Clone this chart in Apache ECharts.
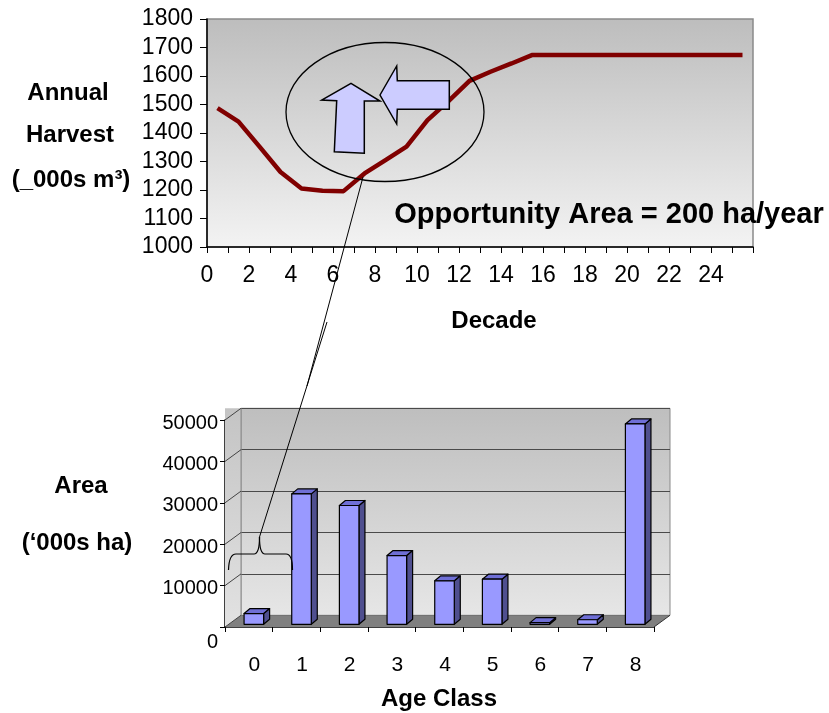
<!DOCTYPE html>
<html><head><meta charset="utf-8">
<script src="https://cdn.jsdelivr.net/npm/echarts@6/dist/echarts.min.js"></script>
<style>html,body{margin:0;padding:0;background:#fff}#c{width:829px;height:713px}</style>
</head><body><div id="c"></div>
<script>
// ---- data ----
const decades = [0.5,1.5,2.5,3.5,4.5,5.5,6.5,7.5,8.5,9.5,10.5,11.5,12.5,13.5,14.5,15.5,16.5,17.5,18.5,19.5,20.5,21.5,22.5,23.5,24.5,25.5];
const harvest = [1487,1440,1352,1263,1205,1197,1196,1258,1305,1352,1445,1512,1583,1615,1644,1674,1674,1674,1674,1674,1674,1674,1674,1674,1674,1674];
const harvestTicks = [1000,1100,1200,1300,1400,1500,1600,1700,1800];
const decadeLabels = [0,2,4,6,8,10,12,14,16,18,20,22,24];
const ageClasses = ['0','1','2','3','4','5','6','7','8'];
const areaValues = [2600,31500,28700,16600,10500,10900,400,1100,48400];
const areaTicks = [0,10000,20000,30000,40000,50000];

const FONT = '"Liberation Sans", Arial, Helvetica, sans-serif';
const chart = echarts.init(document.getElementById('c'), null, {renderer:'canvas'});

const grad = (a,b) => new echarts.graphic.LinearGradient(0,0,0,1,[{offset:0,color:a},{offset:1,color:b}]);

function txt(text, x, y, size, bold) {
  return {type:'text', x:x, y:y, z:100, style:{text:text, fill:'#000',
    font:(bold?'bold ':'') + size + 'px ' + FONT,
    align:'center', verticalAlign:'middle', textAlign:'center', textVerticalAlign:'middle'}};
}
function poly(points) {
  return {type:'polygon', z:100, shape:{points:points}, style:{fill:'#ccccff', stroke:'#000', lineWidth:1.5}};
}
function seg(x1,y1,x2,y2) {
  return {type:'line', z:100, shape:{x1:x1,y1:y1,x2:x2,y2:y2}, style:{stroke:'#000', lineWidth:1}};
}
function curve(x1,y1,cx,cy,x2,y2) {
  return {type:'bezierCurve', z:100, shape:{x1:x1,y1:y1,cpx1:cx,cpy1:cy,x2:x2,y2:y2}, style:{stroke:'#000', lineWidth:1.2, fill:null}};
}

const DX = 16, DY = -11.7; // depth offset of the 3D floor

const option = {
  animation:false,
  textStyle:{fontFamily:FONT},
  grid:[
    {left:207, top:19, width:546, height:228, show:true, outerBoundsMode:'none',
     backgroundColor:grad('#bdbdbd','#f3f3f3'), borderColor:'#8a8a8a', borderWidth:1.5},
    {left:225+DX, top:420+DY, width:429, height:207, show:true, outerBoundsMode:'none',
     backgroundColor:grad('#bebebe','#e6e6e6'), borderColor:'#8a8a8a', borderWidth:1},
    {left:225, top:420, width:429, height:207, outerBoundsMode:'none'}
  ],
  xAxis:[
    {gridIndex:0, type:'value', min:0, max:26, interval:1,
     axisLine:{show:true, lineStyle:{color:'#000', width:1.5}},
     axisTick:{show:true, length:6, lineStyle:{color:'#000', width:1}},
     axisLabel:{show:true, margin:17, fontSize:23, color:'#000', fontFamily:FONT,
       formatter:v => decadeLabels.indexOf(v) >= 0 ? String(v) : ''},
     splitLine:{show:false}},
    {gridIndex:1, type:'category', data:ageClasses, show:false},
    {gridIndex:2, type:'category', data:ageClasses,
     axisLine:{show:true, lineStyle:{color:'#000', width:1.5}},
     axisTick:{show:true, length:5, interval:0, lineStyle:{color:'#000', width:1}},
     axisLabel:{show:true, interval:0, margin:28, color:'#000', fontSize:21, fontFamily:FONT,
       formatter:v => '{a|' + v + '}',
       rich:{a:{fontSize:21, color:'#000', fontFamily:FONT, padding:[0,0,0,11]}}},
     splitLine:{show:false}}
  ],
  yAxis:[
    {gridIndex:0, type:'value', min:harvestTicks[0], max:harvestTicks[harvestTicks.length-1], interval:100,
     axisLine:{show:true, lineStyle:{color:'#000', width:1.5}},
     axisTick:{show:true, length:7, lineStyle:{color:'#000', width:1}},
     axisLabel:{show:true, margin:14, fontSize:23, color:'#000', fontFamily:FONT,
       formatter:v => String(v)},
     splitLine:{show:false}},
    {gridIndex:1, type:'value', min:0, max:50000, interval:10000,
     axisLine:{show:false}, axisTick:{show:false}, axisLabel:{show:false},
     splitLine:{show:true, lineStyle:{color:'#4a4a4a', width:1}}},
    {gridIndex:2, type:'value', min:0, max:50000, interval:10000,
     axisLine:{show:true, lineStyle:{color:'#000', width:1.5}},
     axisTick:{show:true, length:5, lineStyle:{color:'#000', width:1}},
     axisLabel:{show:true, margin:7, color:'#000', fontSize:20, fontFamily:FONT,
       formatter:v => v === 0 ? '{z|0}' : '{n|' + v + '}',
       rich:{n:{fontSize:20, color:'#000', fontFamily:FONT, padding:[6,0,0,0]},
             z:{fontSize:20, color:'#000', fontFamily:FONT, padding:[31,0,0,0]}}},
     splitLine:{show:false}}
  ],
  series:[
    {type:'line', xAxisIndex:0, yAxisIndex:0, data:decades.map((d,i)=>[d, harvest[i]]),
     symbol:'none', lineStyle:{color:'#800000', width:4.5}, z:3},
    // 3D floor, side wall and depth ticks of the bottom chart
    {type:'custom', xAxisIndex:2, yAxisIndex:2, data:[[0,0]], silent:true, z:1,
     renderItem:(params, api) => {
       const r = params.coordSys;
       const L = r.x, R = r.x + r.width, T = r.y, B = r.y + r.height;
       const ch = [];
       ch.push({type:'polygon', shape:{points:[[L,T+DY],[L+DX,T+DY],[L+DX,B+DY],[L,B]]},
         style:{fill:grad('#c4c4c4','#e2e2e2'), stroke:null}});
       ch.push({type:'line', shape:{x1:L+DX,y1:T+DY,x2:L+DX,y2:B+DY}, style:{stroke:'#8a8a8a', lineWidth:1}});
       ch.push({type:'polygon', shape:{points:[[L,B],[L+DX,B+DY],[R+DX,B+DY],[R,B]]},
         style:{fill:'#808080', stroke:null}});
       ch.push({type:'line', shape:{x1:R,y1:B,x2:R+DX,y2:B+DY}, style:{stroke:'#333', lineWidth:1}});
       areaTicks.forEach(v => {
         const y = api.coord([0, v])[1];
         ch.push({type:'line', shape:{x1:L,y1:y,x2:L+DX,y2:y+DY}, style:{stroke:'#444', lineWidth:1}});
       });
       return {type:'group', children:ch};
     }},
    // 3D columns
    {type:'custom', xAxisIndex:2, yAxisIndex:2, data:areaValues.map((v,i)=>[i,v]), z:4,
     renderItem:(params, api) => {
       const i = api.value(0), v = api.value(1);
       const top = api.coord([i, v]), base = api.coord([i, 0]);
       const bw = api.size([1,0])[0];
       const w = bw * 0.41, ox = bw * 0.105, oy = -2.7;
       const dx = 6, dy = -5;
       const x0 = base[0] + ox - w/2, x1 = x0 + w;
       const yb = base[1] + oy, yt = top[1] + oy;
       const st = {stroke:'#000', lineWidth:1.2, lineJoin:'round'};
       return {type:'group', children:[
         {type:'polygon', shape:{points:[[x1,yt],[x1+dx,yt+dy],[x1+dx,yb+dy],[x1,yb]]}, style:Object.assign({fill:'#4f4f8f'}, st)},
         {type:'polygon', shape:{points:[[x0,yt],[x0+dx,yt+dy],[x1+dx,yt+dy],[x1,yt]]}, style:Object.assign({fill:'#6f6fd6'}, st)},
         {type:'rect', shape:{x:x0, y:yt, width:w, height:yb-yt}, style:Object.assign({fill:'#9999ff'}, st)}
       ]};
     }}
  ],
  graphic:[
    txt('Annual', 68, 93, 24, true),
    txt('Harvest', 70, 135, 24, true),
    txt('(_000s m\u00B3)', 71, 180, 24, true),
    txt('Decade', 494, 321, 24, true),
    txt('Opportunity Area = 200 ha/year', 609, 215, 29, true),
    txt('Area', 81, 486, 24, true),
    txt('(\u2018000s ha)', 77, 543, 24, true),
    txt('Age Class', 439, 699, 24, true),
    {type:'ellipse', z:100, shape:{cx:385, cy:112, rx:99, ry:69.5}, style:{fill:null, stroke:'#000', lineWidth:1.3}},
    poly([[351,83.3],[380,101],[364.3,101],[364.3,153.3],[334.3,151.7],[336.7,100.7],[321.7,100]]),
    poly([[380,95],[396.7,66],[397.3,80.7],[449.3,80.7],[449.3,109.3],[397.3,109.3],[396.7,124]]),
    seg(363,177,307,386),
    seg(327,322,259.5,537),
    curve(228.5,570,229,554,236,554),
    seg(236,554,254,554),
    curve(254,554,259.5,554,259.5,537),
    curve(259.5,537,259.5,554,265,554),
    seg(265,554,286,554),
    curve(286,554,292.5,554,292.5,570)
  ]
};
chart.setOption(option);
</script>
</body></html>
